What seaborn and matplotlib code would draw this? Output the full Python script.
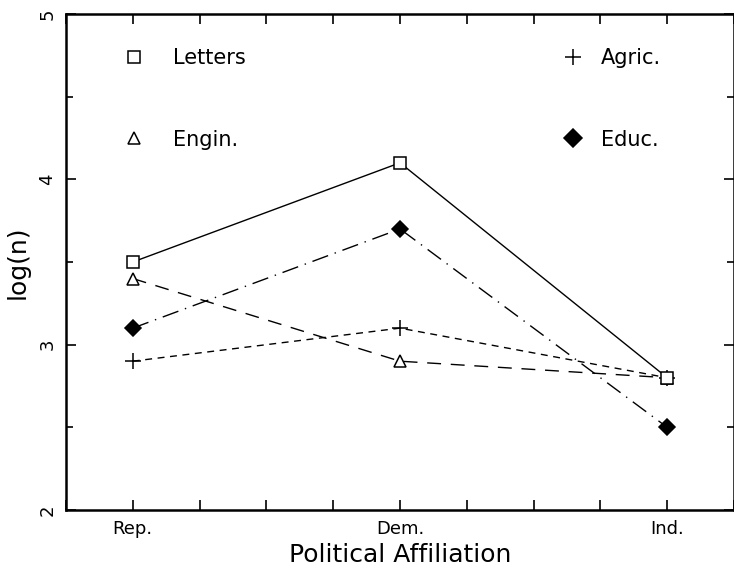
import numpy as np
import pandas as pd
import matplotlib
matplotlib.use("Agg")
import matplotlib.pyplot as plt
import seaborn as sns
from matplotlib.lines import Line2D
from matplotlib.ticker import MultipleLocator

categories = ["Rep.", "Dem.", "Ind."]
letters = [3.5, 4.1, 2.8]
engin = [3.4, 2.9, 2.8]
agric = [2.9, 3.1, 2.8]
educ = [3.1, 3.7, 2.5]
series_names = ["Letters", "Engin.", "Agric.", "Educ."]
series_values = [letters, engin, agric, educ]

sns.set_theme(style="ticks")
plt.rcParams["font.family"] = ["DejaVu Sans"]
plt.rcParams["text.color"] = "black"
plt.rcParams["axes.labelcolor"] = "black"
plt.rcParams["xtick.labelcolor"] = "black"
plt.rcParams["ytick.labelcolor"] = "black"

styles = {
    "Letters": dict(marker="s", mfc="white", ls="-", ms=8),
    "Engin.": dict(marker="^", mfc="white", ls=(0, (10, 7)), ms=8),
    "Agric.": dict(marker="+", mfc="black", ls=(0, (5, 4)), ms=11),
    "Educ.": dict(marker="D", mfc="black", ls=(0, (12, 5, 1, 5)), ms=8),
}

fig = plt.figure(figsize=(7.34, 5.69), dpi=100)
ax = fig.add_axes([0.0899, 0.1037, 0.9101, 0.8717])

xpos = np.arange(len(categories))
order = ["Agric.", "Engin.", "Educ.", "Letters"]
for name in order:
    vals = series_values[series_names.index(name)]
    st = styles[name]
    df = pd.DataFrame({"x": xpos, "y": vals})
    sns.lineplot(data=df, x="x", y="y", ax=ax, color="black", lw=1.0,
                 marker=st["marker"], markersize=st["ms"], markerfacecolor=st["mfc"],
                 markeredgecolor="black", markeredgewidth=1.1, linestyle=st["ls"],
                 zorder=3)

ax.set_xlim(-0.25, 2.25)
ax.set_ylim(2, 5)
ax.set_xticks(xpos)
ax.set_xticklabels(categories, fontsize=13)
ax.xaxis.set_minor_locator(MultipleLocator(0.25))
ax.set_yticks([2, 3, 4, 5])
ax.set_yticklabels(["2", "3", "4", "5"], fontsize=13, rotation=90, va="center")
ax.yaxis.set_minor_locator(MultipleLocator(0.5))
ax.tick_params(which="both", direction="in", top=True, right=True, width=1.2, color="black")
ax.tick_params(which="major", length=7, pad=7)
ax.tick_params(axis="x", which="minor", length=7)
ax.tick_params(axis="y", which="minor", length=5)
for sp in ax.spines.values():
    sp.set_linewidth(1.8)
    sp.set_color("black")

ax.set_xlabel("Political Affiliation", fontsize=18, labelpad=4)
ax.set_ylabel("log(n)", fontsize=18, labelpad=6)

def make_handle(name):
    st = styles[name]
    return Line2D([], [], color="black", ls="none", marker=st["marker"],
                  markersize=st["ms"] + 1, markerfacecolor=st["mfc"],
                  markeredgecolor="black", markeredgewidth=1.1)

col1 = ["Letters", "Engin."]
col2 = ["Agric.", "Educ."]
leg1 = ax.legend([make_handle(n) for n in col1], col1,
                 loc="upper left", bbox_to_anchor=(0.058, 0.969), frameon=False,
                 fontsize=15, handlelength=1.0, handletextpad=1.4, labelspacing=2.95)
ax.add_artist(leg1)
leg2 = ax.legend([make_handle(n) for n in col2], col2,
                 loc="upper left", bbox_to_anchor=(0.716, 0.969), frameon=False,
                 fontsize=15, handlelength=1.0, handletextpad=0.82, labelspacing=2.95)

fig.savefig("out.png", dpi=100)
